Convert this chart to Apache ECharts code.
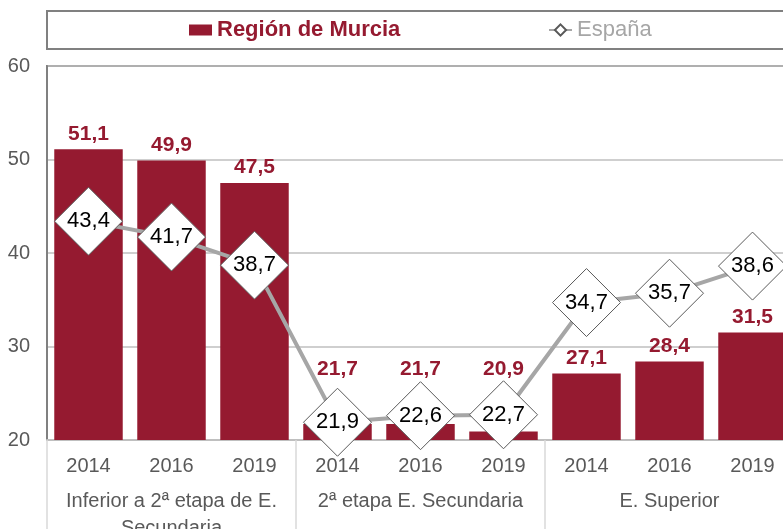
<!DOCTYPE html>
<html>
<head>
<meta charset="utf-8">
<script src="https://cdn.jsdelivr.net/npm/echarts@6/dist/echarts.min.js"></script>
<style>
  html, body { margin: 0; padding: 0; background: #fff; }
  #chart { width: 783px; height: 529px; }
</style>
</head>
<body>
<div id="chart"></div>
<script>
var years = ['2014', '2016', '2019', '2014', '2016', '2019', '2014', '2016', '2019'];
var groups = ['Inferior a 2ª etapa de E.\nSecundaria', '2ª etapa E. Secundaria', 'E. Superior'];
var murcia = [51.1, 49.9, 47.5, 21.7, 21.7, 20.9, 27.1, 28.4, 31.5];
var espana = [43.4, 41.7, 38.7, 21.9, 22.6, 22.7, 34.7, 35.7, 38.6];
var yTicks = [20, 30, 40, 50, 60];

var font = 'Liberation Sans, Arial, sans-serif';
var wine = '#951a30';
var grey = '#595959';

function comma(p) { return String(p.value.toFixed(1)).replace('.', ','); }

// labels of the middle group sit above the diamonds, as in the original
var liftedLabel = { 3: 44, 4: 44, 5: 52 };
var murciaData = murcia.map(function(v, i) {
  if (liftedLabel[i] == null) return v;
  return { value: v, label: { distance: liftedLabel[i] } };
});

var chart = echarts.init(document.getElementById('chart'), null, { renderer: 'canvas' });
chart.setOption({
  animation: false,
  textStyle: { fontFamily: font },
  graphic: [{
    type: 'rect',
    shape: { x: 47, y: 11, width: 800, height: 38 },
    style: { fill: 'none', stroke: '#808080', lineWidth: 2 },
    silent: true
  }],
  legend: [{
    data: [{ name: 'Región de Murcia', icon: 'rect' }],
    left: 189, top: 19, padding: 0,
    itemWidth: 23, itemHeight: 11,
    textStyle: { fontSize: 22, fontWeight: 'bold', color: wine, fontFamily: font }
  }, {
    data: [{ name: 'España' }],
    left: 548, top: 19, padding: 0,
    itemWidth: 23, itemHeight: 14,
    textStyle: { fontSize: 22, color: '#a6a6a6', fontFamily: font }
  }],
  grid: {
    left: 47, top: 66, width: 747, height: 374,
    outerBoundsMode: 'none',
    show: true, borderColor: '#808080', borderWidth: 2
  },
  xAxis: [{
    type: 'category',
    data: years,
    axisLine: { show: true, lineStyle: { color: '#bfbfbf', width: 2 } },
    axisTick: { show: false },
    axisLabel: { color: grey, fontSize: 20, margin: 16, fontFamily: font, interval: 0 }
  }, {
    type: 'category',
    data: groups,
    position: 'bottom',
    axisLine: { show: false },
    axisTick: { show: true, length: 90, interval: 0, lineStyle: { color: '#d9d9d9', width: 1.5 } },
    axisLabel: { color: grey, fontSize: 20, lineHeight: 27, margin: 48, fontFamily: font, interval: 0 }
  }],
  yAxis: {
    type: 'value',
    min: yTicks[0], max: yTicks[yTicks.length - 1], interval: 10,
    axisLine: { show: true, lineStyle: { color: '#808080', width: 2 } },
    axisTick: { show: false },
    axisLabel: { color: grey, fontSize: 20, margin: 17, fontFamily: font },
    splitLine: { lineStyle: { color: '#bfbfbf', width: 1.5 } }
  },
  series: [{
    name: 'Región de Murcia',
    type: 'bar',
    data: murciaData,
    xAxisIndex: 0,
    barCategoryGap: '17.5%',
    itemStyle: { color: wine },
    label: {
      show: true, position: 'top', distance: 5,
      color: wine, fontSize: 21, fontWeight: 'bold', fontFamily: font,
      formatter: comma
    }
  }, {
    name: 'España',
    type: 'line',
    data: espana,
    xAxisIndex: 0,
    symbol: 'diamond',
    symbolSize: [68, 68],
    lineStyle: { color: '#a6a6a6', width: 4 },
    itemStyle: { color: '#fff', borderColor: grey, borderWidth: 1 },
    label: {
      show: true, position: 'inside',
      color: '#000', fontSize: 22, fontFamily: font,
      formatter: comma
    },
    z: 3
  }]
});
</script>
</body>
</html>
